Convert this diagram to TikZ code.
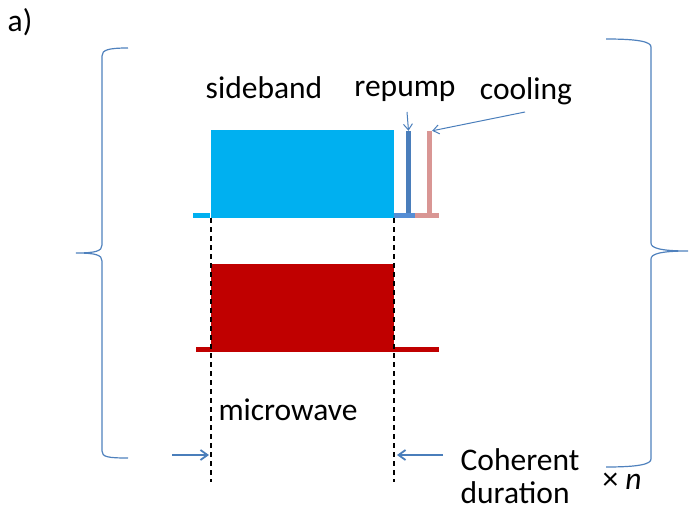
\documentclass[tikz,border=0pt]{standalone}
\usepackage{fontspec}
\setmainfont{Carlito}
\usetikzlibrary{arrows.meta, positioning}
\definecolor{sbcol}{RGB}{0,176,240}
\definecolor{mwcol}{RGB}{192,0,0}
\definecolor{rpcol}{RGB}{74,126,187}
\definecolor{rplight}{RGB}{85,142,213}
\definecolor{clcol}{RGB}{217,150,148}
\definecolor{bracecol}{RGB}{79,129,189}

\begin{document}
\begin{tikzpicture}[
    x=1pt, y=-1pt,
    every node/.style={font=\fontsize{31.5}{36}\selectfont, inner sep=0pt},
    pulse/.style={rectangle, draw=none, inner sep=0pt, minimum width=183pt},
    bar/.style={rectangle, draw=none, inner sep=0pt, minimum width=5pt, minimum height=84pt},
    base/.style={line width=5pt},
    marker/.style={black, dash pattern=on 5pt off 4pt, line width=1.2pt},
    pointer/.style={-{Straight Barb[length=6pt, width=9pt]}, rpcol, line width=1pt},
    timearrow/.style={-{Straight Barb[length=7pt, width=10pt]}, rpcol, line width=1.8pt},
    curly/.style={bracecol, line width=1.2pt}
]
\useasboundingbox (0,0) rectangle (689,511);

% Label
\node (lab) at (20,22) {a)};

% Sideband pulse with repump and cooling
\node[pulse, fill=sbcol, minimum height=88pt] (sb) at (302,174) {};
\node[bar, fill=rpcol] (rp) at (408.5,173) {};
\node[bar, fill=clcol] (cl) at (429.5,173) {};
\draw[base, sbcol] (193,215.5) -- (sb.south west |- 0,215.5);
\draw[base, rplight] (sb.south east |- 0,215.5) -- (415,215.5);
\draw[base, clcol] (415,215.5) -- (439,215.5);

\node (sbtext) at (264,88) {sideband};
\node (rptext) at (405,91) {repump};
\node (cltext) at (526,91) {cooling};
\draw[pointer] (407,112) -- (rp.north);
\draw[pointer] (525,112) -- (cl.north east);

% Microwave pulse
\node[pulse, fill=mwcol, minimum height=88pt] (mw) at (302.5,308) {};
\draw[line width=5pt, mwcol] (196,349.5) -- (439,349.5);
\node (mwtext) at (288,410) {microwave};

% Coherent duration
\coordinate (dl) at (211,218);
\coordinate (dr) at (394,218);
\draw[marker] (dl) -- (211,482);
\draw[marker] (dr) -- (394,482);
\node (cdtext) at (520,460) {Coherent};
\node[below=10pt of cdtext.south west, anchor=north west] (durtext) {duration};
\coordinate (la) at (172,455);
\draw[timearrow] (la) -- (209,455);
\draw[timearrow] (443,455) -- (397,455);

% Braces
\draw[curly] (128,48) .. controls (108,48) and (102,50) .. (102,56)
  -- (102,245) .. controls (102,251) and (96,253) .. (76,253)
  .. controls (96,253) and (102,255) .. (102,261)
  -- (102,451) .. controls (102,457) and (108,458) .. (128,458);
\draw[curly] (606,39) .. controls (640,39) and (651,42) .. (651,47)
  -- (651,243) .. controls (651,248) and (660,251) .. (688,251)
  .. controls (660,251) and (651,254) .. (651,259)
  -- (651,459) .. controls (651,464) and (640,467) .. (606,467);
\node (rep) at (622,481) {× \textit{n}};
\end{tikzpicture}
\end{document}
